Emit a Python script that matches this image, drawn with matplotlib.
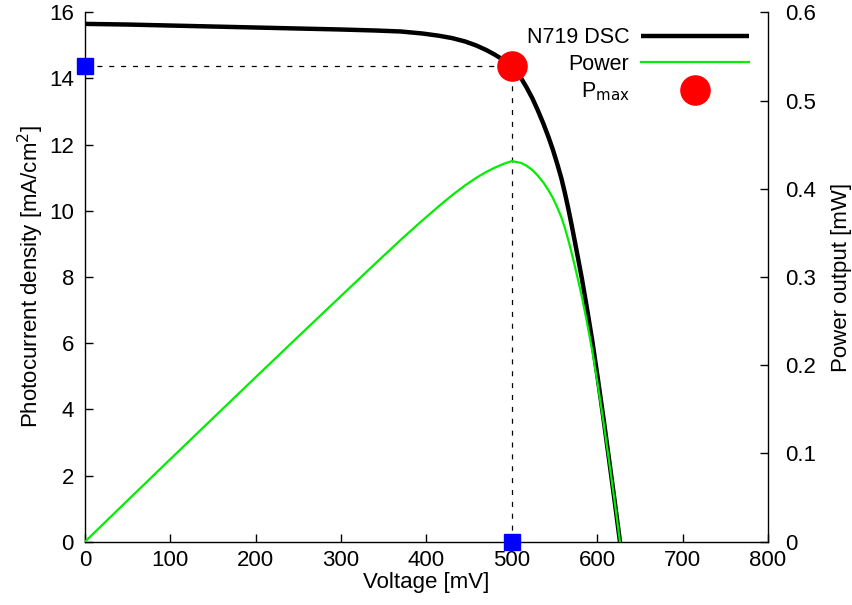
import matplotlib
matplotlib.use("Agg")
import matplotlib.pyplot as plt

plt.rcParams['font.family'] = ['Liberation Sans', 'DejaVu Sans']

# Data
voltage_mV = [0, 50, 100, 150, 200, 250, 300, 340, 370, 395, 415, 430, 445, 458,
              470, 480, 490, 500, 506, 511, 517, 524, 530, 537, 543, 548, 553,
              558, 562, 566, 570, 574, 578, 582, 587, 594, 600, 607, 614, 620,
              626.6, 632]
current_density = [15.65, 15.63, 15.60, 15.57, 15.54, 15.51, 15.48, 15.45, 15.42,
                   15.36, 15.29, 15.22, 15.12, 15.00, 14.86, 14.72, 14.56, 14.38,
                   14.17, 14.00, 13.74, 13.40, 13.06, 12.63, 12.22, 11.85, 11.43,
                   10.98, 10.55, 10.08, 9.57, 9.04, 8.50, 7.95, 7.20, 6.10, 5.05,
                   3.78, 2.45, 1.30, 0.0, -1.1]
power_mW = [0.0, 0.0469, 0.0936, 0.1401, 0.1865, 0.2327, 0.2786, 0.3152, 0.3423,
            0.3640, 0.3807, 0.3927, 0.4037, 0.4122, 0.4191, 0.4239, 0.4281,
            0.4314, 0.4302, 0.4292, 0.4262, 0.4213, 0.4153, 0.4069, 0.3981,
            0.3896, 0.3793, 0.3676, 0.3558, 0.3423, 0.3273, 0.3113, 0.2948,
            0.2776, 0.2536, 0.2174, 0.1818, 0.1377, 0.0903, 0.0484, 0.0, -0.0417]
v_max = 500
j_max = 14.38

x_ticks = [0, 100, 200, 300, 400, 500, 600, 700, 800]
y_ticks = [0, 2, 4, 6, 8, 10, 12, 14, 16]
y2_ticks = [0, 0.1, 0.2, 0.3, 0.4, 0.5, 0.6]
y2_ticklabels = ["0", "0.1", "0.2", "0.3", "0.4", "0.5", "0.6"]

fig = plt.figure(figsize=(8.53, 6.05), dpi=100)
ax = fig.add_axes([85 / 853, 1 - 541.7 / 605, 683 / 853, 529.4 / 605])
ax2 = ax.twinx()

ax.set_xlim(0, 800)
ax.set_ylim(0, 16)
ax2.set_ylim(0, 0.6)

# Main J-V curve
l1, = ax.plot(voltage_mV, current_density, color='black', lw=3.2,
              solid_capstyle='butt', solid_joinstyle='round',
              label='N719 DSC', zorder=3)

# Dashed guides to the maximum power point
ax.plot([0, v_max], [j_max, j_max], color='black', lw=0.9,
        dashes=(4, 5.5), zorder=2)
ax.plot([v_max, v_max], [0, j_max], color='black', lw=0.9,
        dashes=(4, 5.5), zorder=2)

# Blue squares on axes
ax.plot([0], [j_max], marker='s', ms=11, color='#0000ff', ls='none',
        clip_on=False, zorder=6)
ax.plot([v_max], [0], marker='s', ms=11, color='#0000ff', ls='none',
        clip_on=False, zorder=6)

# Power curve
l2, = ax2.plot(voltage_mV, power_mW, color='#00ee00', lw=1.6,
               solid_joinstyle='round', label='Power', zorder=3)

# Pmax point
l3, = ax2.plot([v_max], [j_max * 0.6 / 16], marker='o', ms=21,
               color='#ff0000', ls='none', label=r'P$_{\mathrm{max}}$', zorder=5)

# Spines
ax.spines['top'].set_visible(False)
ax.spines['right'].set_visible(False)
ax2.spines['top'].set_visible(False)
ax2.spines['left'].set_visible(False)
ax2.spines['bottom'].set_visible(False)
for sp in list(ax.spines.values()) + list(ax2.spines.values()):
    sp.set_linewidth(1.0)

ax.set_xticks(x_ticks)
ax.set_yticks(y_ticks)
ax2.set_yticks(y2_ticks)
ax2.set_yticklabels(y2_ticklabels)

ax.tick_params(axis='both', direction='in', length=6, width=1.0,
               labelsize=16, top=False, right=False)
ax.tick_params(axis='y', pad=8)
ax.tick_params(axis='x', pad=6)
ax2.tick_params(axis='y', direction='in', length=6, width=1.0,
                labelsize=16, pad=12)

ax.set_xlabel('Voltage [mV]', fontsize=16, labelpad=1)
ax.set_ylabel(r'Photocurrent density [mA/cm$^2$]', fontsize=16, labelpad=2)
ax2.set_ylabel('Power output [mW]', fontsize=16, labelpad=11)

leg = ax2.legend(handles=[l1, l2, l3], loc='upper right',
                 bbox_to_anchor=(0.972, 0.972), frameon=False, markerfirst=False,
                 fontsize=15.5, handlelength=5.0, handletextpad=0.55,
                 labelspacing=0.27, borderpad=0.0, borderaxespad=0.0,
                 numpoints=1)

fig.savefig('out.png', dpi=100)
